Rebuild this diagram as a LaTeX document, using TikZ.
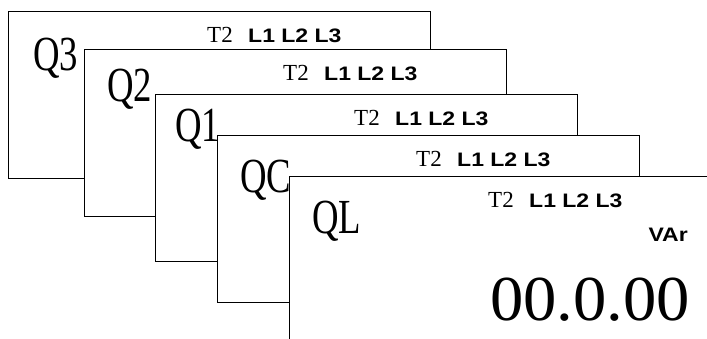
\documentclass[tikz,border=0pt]{standalone}
\usepackage{graphicx}
\usepackage{fontspec}
\setmainfont{Liberation Serif}
\newfontfamily\phasefont{Liberation Sans}

\begin{document}
\begin{tikzpicture}[x=1pt,y=-1pt,
                   every node/.style={inner sep=0pt},
                   screen/.style={draw, fill=white, line width=1.3pt,
                   minimum width=422pt, minimum height=167pt,
                   anchor=north west},
                   bigname/.style={anchor=base west,
                   font=\fontsize{49}{49}\selectfont},
                   tariff/.style={anchor=base west,
                   font=\fontsize{23}{23}\selectfont},
                   phases/.style={anchor=base west,
                   font=\fontsize{19.5}{19.5}\selectfont\phasefont\bfseries}]
  \useasboundingbox (0,0) rectangle (707,338);
  \clip (0,0) rectangle (707,338);
  \foreach \name/\x/\y/\dx/\dy in {Q3/8/11/25/59, Q2/84/48.5/23/52.5,
                                   Q1/155/94/20/47.7, QC/217/134.5/23/58.3,
                                   QL/289/175.5/23/58} {
    \node[screen] (\name) at (\x,\y) {};
    \node[bigname] (\name-name) at ([shift={(\dx,\dy)}]\name.north west) {\scalebox{0.75}[1]{\name}};
    \node[tariff] (\name-t2) at ([shift={(199,31.5)}]\name.north west) {T2};
    \node[phases] (\name-lines) at ([shift={(240,31.5)}]\name.north west) {\scalebox{1.18}[1]{L1 L2 L3}};
  }
  \node[phases, anchor=base east] (unit) at ([shift={(399,66)}]QL.north west) {\scalebox{1.18}[1]{VAr}};
  \node[anchor=base west, font=\fontsize{64}{64}\selectfont] (reading) at ([shift={(201,144.5)}]QL.north west) {\scalebox{1.04}[1]{00.0.00}};
\end{tikzpicture}
\end{document}
